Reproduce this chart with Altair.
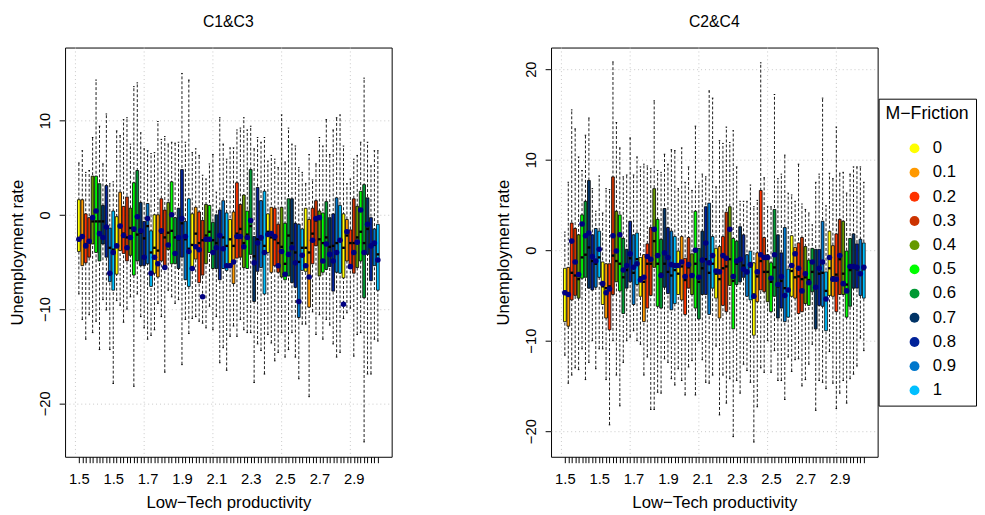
import altair as alt
import pandas as pd

frictions = ["0", "0.1", "0.2", "0.3", "0.4", "0.5", "0.6", "0.7", "0.8", "0.9", "1"]
colors = ["#FFFF00", "#FF9900", "#FF3300", "#CC3300", "#669900", "#00FF00",
          "#009933", "#003366", "#002299", "#0077CC", "#00BFFF"]
prod_labels = ["1.5", "1.5", "1.7", "1.9", "2.1", "2.3", "2.5", "2.7", "2.9"]
grid_x = [0, 20, 40, 60, 80]

# ---- Panel C1&C3 : whisker low, Q1, median, Q3, whisker high, mean ----
p1_lo = [-8.4, -11.1, -13.2, -10.6, -12.5, -11.3, -14.3, -9.0, -10.1, -14.3, -17.9,
         -9.1, -9.6, -11.4, -10.0, -8.7, -18.2, -8.4, -10.8, -12.0, -13.2, -12.8,
         -12.2, -9.4, -10.8, -16.7, -8.0, -8.7, -9.4, -9.0, -15.9, -11.1, -12.6,
         -11.0, -10.8, -11.3, -11.5, -12.0, -9.7, -12.2, -10.8, -15.7, -14.1, -16.5,
         -12.9, -11.8, -12.9, -11.1, -12.2, -12.5, -12.5, -17.8, -13.7, -14.4, -16.9,
         -12.7, -13.6, -15.5, -14.6, -12.5, -15.1, -14.3, -12.5, -15.1, -17.4, -11.6,
         -11.6, -19.3, -10.3, -12.7, -10.6, -13.2, -11.1, -11.7, -13.7, -15.1, -14.6,
         -11.0, -10.4, -9.9, -15.0, -12.7, -12.5, -24.1, -16.9, -16.9, -13.2, -13.4]
p1_q1 = [-3.9, -5.4, -5.1, -4.5, -3.1, -4.0, -4.9, -3.1, -4.5, -7.1, -8.0,
         -6.3, -3.8, -4.1, -4.9, -4.3, -6.4, -4.9, -5.4, -5.4, -5.2, -7.6,
         -6.2, -6.6, -4.9, -5.7, -3.7, -5.2, -5.2, -5.7, -4.5, -6.9, -7.6,
         -5.6, -4.7, -7.2, -6.4, -5.2, -4.0, -5.7, -5.7, -6.9, -5.7, -5.9,
         -5.2, -7.3, -4.6, -4.5, -5.6, -5.7, -4.2, -9.2, -6.0, -5.6, -8.4,
         -4.0, -6.1, -5.4, -6.1, -6.6, -6.9, -6.5, -7.2, -7.7, -10.9, -5.9,
         -6.0, -9.8, -5.2, -3.3, -6.5, -6.1, -5.8, -5.5, -8.1, -6.1, -6.2,
         -6.7, -4.9, -5.4, -6.2, -5.6, -4.9, -8.8, -4.2, -7.0, -5.4, -8.0]
p1_med = [-2.5, -2.2, -3.1, -2.8, -0.7, -0.7, -0.7, -0.7, -1.2, -3.5, -3.7,
          -3.3, -1.3, -2.0, -2.4, -1.4, -1.7, -2.1, -1.9, -2.5, -1.2, -4.0,
          -3.5, -3.8, -1.9, -2.4, -1.9, -1.7, -2.4, -2.6, -0.9, -2.6, -3.6,
          -3.2, -2.0, -3.0, -2.7, -2.2, -1.8, -2.7, -3.0, -2.2, -2.4, -3.3,
          -2.6, -3.3, -2.0, -1.5, -3.0, -2.1, -1.2, -4.4, -2.6, -2.6, -3.3,
          -1.8, -2.4, -2.6, -3.0, -3.4, -5.2, -2.2, -3.0, -4.0, -5.0, -3.5,
          -3.5, -4.0, -2.0, -0.6, -2.6, -3.0, -2.4, -3.4, -3.3, -3.0, -2.6,
          -3.5, -2.2, -3.0, -3.0, -2.4, -1.8, -3.0, -1.5, -3.4, -3.2, -4.2]
p1_q3 = [1.6, 1.6, 0.1, -0.3, 4.1, 4.1, 3.3, 1.0, 3.1, -1.4, 0.4,
         -0.2, 2.4, 0.9, 1.9, 0.7, 3.4, 4.7, 1.3, -0.7, 1.2, -1.7,
         0.0, 0.0, 1.7, 0.5, 1.3, 3.5, -0.3, 0.7, 4.8, -0.7, 1.7,
         0.1, 0.8, 0.3, -0.6, 1.1, 1.0, -0.8, 0.0, 0.5, 1.5, 0.2,
         -0.5, 0.3, 3.4, 1.1, 2.1, 0.4, 4.8, -2.3, 2.9, 1.5, 2.5,
         0.1, 0.8, 0.7, -1.0, 0.8, -0.9, 1.7, 1.7, -0.9, -1.0, -1.5,
         0.7, -0.5, 0.7, 1.5, 0.4, 0.2, 1.4, -0.3, 0.1, 1.8, 1.0,
         0.1, -0.5, -1.6, 1.7, 0.9, 2.5, 3.2, 1.8, -0.3, -1.5, -1.0]
p1_hi = [5.5, 6.8, 4.5, 4.7, 8.2, 14.3, 9.4, 5.4, 10.7, 3.3, 3.5,
         8.9, 8.4, 10.1, 10.3, 7.5, 13.6, 14.0, 8.7, 7.0, 6.8, 6.5,
         6.6, 9.9, 8.0, 8.3, 7.5, 7.7, 7.6, 7.7, 15.0, 7.7, 14.3,
         6.6, 7.0, 6.3, 4.2, 3.8, 5.4, 6.4, 2.4, 10.3, 7.5, 5.9,
         7.1, 7.1, 9.0, 9.2, 10.3, 9.0, 9.4, 7.0, 8.2, 7.7, 8.2,
         5.7, 6.3, 5.9, 5.0, 10.6, 5.6, 9.2, 7.5, 7.3, 5.0, 4.5,
         3.3, 6.4, 3.7, 5.4, 8.2, 7.3, 10.1, 6.4, 9.0, 10.3, 10.6,
         7.3, 3.3, 3.8, 5.9, 6.3, 7.7, 14.5, 7.7, 5.2, 6.8, 6.8]
p1_mean = [-2.6, -2.3, -3.3, -2.8, -0.3, 0.4, -2.0, -2.4, -1.3, -6.2, -4.0,
           -3.3, -1.2, -2.2, -3.5, -2.4, -1.5, -0.2, -1.7, -4.5, -0.4, -6.2,
           -4.5, -5.2, -1.7, -5.6, -3.2, 0.0, -4.1, -2.4, -0.4, -2.3, -3.9,
           -5.7, -3.4, -3.7, -8.7, -2.6, -2.6, -4.0, -3.5, -2.2, -3.6, -5.4,
           -5.4, -5.0, -2.3, -2.3, -3.4, -2.4, -0.6, -5.1, -3.0, -2.4, -4.0,
           -2.1, -2.0, -2.3, -5.4, -3.9, -6.3, -4.2, -3.5, -5.1, -9.2, -4.3,
           -5.4, -6.6, -2.7, -0.4, -0.3, -4.9, -3.1, -4.2, -4.9, -4.0, -2.7,
           -9.5, -1.8, -5.5, -4.0, -2.9, 0.5, -4.0, -1.0, -3.3, -3.0, -4.8]

# ---- Panel C2&C4 ----
p2_lo = [-11.6, -14.7, -13.8, -13.0, -13.2, -10.9, -14.3, -12.4, -10.0, -13.1, -10.9,
         -10.9, -14.3, -19.3, -10.0, -13.8, -17.2, -12.4, -10.0, -9.6, -8.9, -10.0,
         -10.4, -13.8, -11.8, -17.6, -17.6, -15.7, -15.8, -12.0, -12.4, -14.2, -14.9,
         -13.1, -14.4, -16.0, -12.9, -12.2, -16.0, -10.0, -12.1, -14.6, -14.7, -13.8,
         -10.6, -18.2, -13.8, -16.9, -14.2, -20.6, -14.4, -15.8, -12.6, -13.3, -14.6,
         -21.2, -17.3, -13.0, -13.5, -10.0, -13.5, -11.1, -14.4, -14.4, -16.5, -11.8,
         -13.4, -12.1, -12.0, -15.0, -14.3, -12.6, -10.4, -17.7, -14.4, -14.6, -15.3,
         -11.2, -14.7, -17.5, -15.8, -14.4, -16.9, -14.2, -13.7, -12.8, -9.7, -11.1]
p2_q1 = [-7.9, -8.4, -5.5, -5.0, -5.3, -3.1, -3.0, -4.2, -4.4, -4.1, -3.0,
         -6.0, -7.5, -8.8, -4.9, -3.5, -4.5, -7.0, -4.2, -3.5, -6.0, -3.8,
         -5.1, -7.9, -6.4, -5.0, -1.9, -6.2, -6.4, -4.1, -4.8, -6.6, -5.9,
         -4.9, -5.5, -7.1, -4.2, -4.9, -6.4, -7.6, -4.9, -4.9, -7.1, -4.2,
         -5.3, -7.5, -6.1, -6.8, -3.9, -8.7, -3.8, -3.5, -3.0, -5.1, -5.5,
         -9.4, -5.7, -4.4, -4.6, -5.7, -6.8, -5.1, -7.5, -6.4, -7.9, -7.4,
         -5.1, -5.3, -7.0, -6.8, -5.9, -6.1, -4.6, -8.7, -6.1, -6.2, -8.9,
         -5.0, -5.1, -6.8, -4.9, -4.9, -7.4, -6.2, -4.2, -4.2, -5.0, -5.3]
p2_med = [-4.6, -4.8, -2.5, -2.8, -3.2, -0.8, -0.5, 0.3, -1.2, -1.5, -0.8,
          -4.0, -4.2, -4.0, -0.6, -1.2, -1.5, -3.0, -2.2, -0.9, -2.5, -1.0,
          -3.0, -3.5, -1.5, -1.5, 1.0, -1.5, -2.6, -1.5, -2.4, -2.8, -2.2,
          -2.6, -1.8, -3.3, -1.9, -2.9, -1.5, -3.5, -2.0, -1.0, -2.5, -1.5,
          -2.6, -3.2, -2.0, -1.8, -1.0, -3.4, -1.5, -1.2, -1.7, -2.5, -1.8,
          -4.9, -2.9, -1.2, -2.4, -2.4, -3.5, -1.9, -4.0, -3.4, -4.2, -4.4,
          -2.3, -3.0, -2.9, -3.2, -3.0, -3.3, -2.4, -4.0, -2.6, -2.5, -4.5,
          -2.0, -3.0, -2.7, -1.0, -2.6, -3.8, -2.2, -1.8, -2.1, -2.6, -2.1]
p2_q3 = [-2.0, -1.9, 3.0, 2.4, 1.7, 3.9, 5.4, 7.7, 1.7, 2.4, 2.1,
         -1.3, -1.5, -1.5, 8.1, 4.3, 3.9, 1.3, 0.1, 3.2, 1.7, 1.9,
         -0.8, -0.5, 0.7, 2.5, 6.8, 3.4, 1.2, 4.6, 2.5, 2.1, 1.5,
         -0.1, 1.5, -0.9, 1.4, -0.4, 4.3, 0.2, 2.1, 4.8, 5.2, 1.5,
         0.2, 0.4, 1.5, 4.2, 4.8, 1.3, 1.0, 2.6, 1.7, -0.5, -0.1,
         -1.4, -0.3, 6.6, 1.4, -0.5, -1.4, 4.5, 1.7, -0.3, 2.5, -2.1,
         1.6, 0.3, 0.8, 1.4, 0.4, -1.1, 0.2, 0.1, 0.1, 3.2, -2.4,
         2.1, 0.5, 1.8, 3.4, 3.2, -0.1, 1.3, 1.8, 0.7, 1.2, 0.8]
p2_hi = [2.0, 7.5, 15.5, 13.4, 10.3, 8.8, 12.7, 14.6, 6.8, 4.3, 8.2,
         4.1, 6.8, 6.7, 20.8, 14.1, 11.3, 8.1, 8.3, 12.4, 8.3, 10.3,
         9.2, 9.5, 9.3, 9.0, 16.5, 8.8, 8.6, 10.6, 9.5, 11.1, 11.0,
         6.8, 11.3, 7.5, 9.2, 6.6, 13.7, 7.4, 8.4, 8.1, 17.6, 16.8,
         7.0, 12.1, 11.8, 13.6, 11.9, 13.2, 9.2, 5.4, 5.4, 5.4, 7.2,
         4.8, 5.5, 20.7, 8.0, 4.8, 4.8, 17.2, 7.9, 8.4, 10.5, 6.3,
         6.1, 5.4, 9.5, 5.1, 4.5, 4.1, 2.8, 7.5, 8.4, 16.8, 4.9,
         8.5, 7.9, 13.6, 8.5, 8.6, 6.3, 8.4, 9.2, 9.2, 9.2, 7.5]
p2_mean = [-4.7, -4.9, 1.0, -1.3, -2.7, 2.9, 1.6, 1.9, -0.7, -1.2, 0.1,
           -3.7, -4.7, -4.3, 1.6, -0.1, 1.7, -2.2, -1.7, -0.4, -1.9, -1.5,
           -3.3, -3.0, -0.7, -1.0, 2.3, -0.6, -2.8, -0.3, -0.8, -1.6, -1.7,
           -1.7, -1.3, -2.9, -1.6, -2.8, 0.0, -3.0, -1.1, 0.8, -1.4, -0.6,
           -2.3, -2.4, -0.6, -0.9, 2.3, -2.9, -1.2, -1.0, -2.1, -2.4, -1.6,
           -5.1, -2.4, -0.5, -0.8, -0.8, -3.1, -0.5, -3.8, -2.9, -5.0, -4.4,
           -1.7, -0.4, -2.0, -4.5, -2.6, -3.6, -1.3, -4.1, -2.0, -1.3, -5.4,
           -0.8, -3.2, -3.2, -0.6, -3.7, -4.5, -1.8, -1.8, -1.9, -2.6, -1.9]


def frame(lo, q1, med, q3, hi, mean):
    n = len(lo)
    return pd.DataFrame({
        "pos": list(range(1, n + 1)),
        "friction": [frictions[i % 11] for i in range(n)],
        "lo": lo, "q1": q1, "med": med, "q3": q3, "hi": hi, "mean": mean,
    })


labels_js = "[" + ",".join("'%s'" % s for s in prod_labels) + "]"
label_expr = "(datum.value - 1) % 10 == 0 ? " + labels_js + "[(datum.value - 1) / 10] : ''"

FONT = "Liberation Sans"
W, H = 332, 416


def make_panel(df, title, ydom, yvals):
    xs = alt.Scale(domain=[-3.02, 92.02], nice=False, zero=False)
    ys = alt.Scale(domain=ydom, nice=False, zero=False)
    xaxis = alt.Axis(values=list(range(1, 89)), labelExpr=label_expr,
                     title="Low−Tech productivity", tickSize=6, labelPadding=21,
                     labelBaseline="alphabetic", labelOverlap=False, labelFlush=False,
                     labelFontSize=15, titleFontSize=17, titleY=52,
                     titleBaseline="alphabetic", grid=False)
    yaxis = alt.Axis(values=yvals, title="Unemployment rate", tickSize=6,
                     labelAngle=270, labelAlign="center", labelBaseline="alphabetic",
                     labelPadding=10, labelFontSize=15, titleFontSize=17,
                     titleAngle=270, titleBaseline="bottom", titleAlign="center",
                     titleX=-39, grid=True, gridDash=[1, 3], gridColor="#c8c8c8",
                     labelOverlap=False, labelFlush=False)
    X = lambda f: alt.X(f, scale=xs, axis=xaxis)
    Y = lambda f: alt.Y(f, scale=ys, axis=yaxis)
    base = alt.Chart(df).transform_calculate(
        xl="datum.pos - 0.4", xr="datum.pos + 0.4",
        sl="datum.pos - 0.22", sr="datum.pos + 0.22")
    grid = alt.Chart(pd.DataFrame({"g": grid_x})).mark_rule(
        color="#c8c8c8", strokeDash=[1, 3], strokeWidth=1
    ).encode(x=X("g:Q"))
    whisk = base.mark_rule(color="black", strokeDash=[3, 2], strokeWidth=0.9).encode(
        x=X("pos:Q"), y=Y("lo:Q"), y2="hi:Q")
    cap_lo = base.mark_rule(color="black", strokeWidth=1).encode(
        x=X("sl:Q"), x2="sr:Q", y=Y("lo:Q"))
    cap_hi = base.mark_rule(color="black", strokeWidth=1).encode(
        x=X("sl:Q"), x2="sr:Q", y=Y("hi:Q"))
    legend = alt.Legend(title="M−Friction", orient="none", legendX=827, legendY=52,
                        symbolType="circle", symbolSize=100, symbolStrokeWidth=0,
                        symbolOffset=21, labelFontSize=17, titleFontSize=18,
                        titleFontWeight="normal", labelFont=FONT, titleFont=FONT,
                        strokeColor="black", fillColor="white", padding=7,
                        rowPadding=6.6, titlePadding=17, labelOffset=10,
                        labelColor="black", titleColor="black")
    box = base.mark_rect(stroke="black", strokeWidth=0.8).encode(
        x=X("xl:Q"), x2="xr:Q", y=Y("q1:Q"), y2="q3:Q",
        color=alt.Color("friction:N", scale=alt.Scale(domain=frictions, range=colors),
                        legend=legend))
    med = base.mark_rule(color="black", strokeWidth=2.4).encode(
        x=X("xl:Q"), x2="xr:Q", y=Y("med:Q"))
    mean = base.mark_circle(color="#000080", opacity=1, size=32).encode(
        x=X("pos:Q"), y=Y("mean:Q"))
    return alt.layer(grid, whisk, cap_lo, cap_hi, box, med, mean).properties(
        width=W, height=H,
        title=alt.Title(title, fontSize=16, fontWeight="normal", font=FONT,
                        offset=17, color="black"))


p1 = make_panel(frame(p1_lo, p1_q1, p1_med, p1_q3, p1_hi, p1_mean), "C1&C3",
                [-25.68, 17.75], [-20, -10, 0, 10])
p2 = make_panel(frame(p2_lo, p2_q1, p2_med, p2_q3, p2_hi, p2_mean), "C2&C4",
                [-22.83, 22.39], [-20, -10, 0, 10, 20])

chart = alt.hconcat(p1, p2, spacing=162, bounds="flush").properties(
    padding={"left": 0, "top": 2, "right": 0, "bottom": 0}
).configure_view(stroke="black", strokeWidth=1).configure_axis(
    domain=False, labelFont=FONT, titleFont=FONT, labelColor="black",
    titleColor="black", tickColor="black", titleFontWeight="normal"
)

chart.save("out.html", embed_options={"renderer": "svg", "actions": False})
